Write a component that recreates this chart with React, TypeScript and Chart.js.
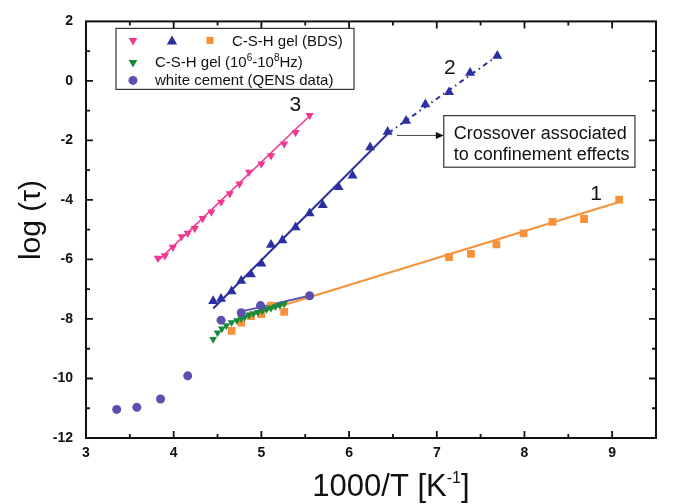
import React, { useEffect, useRef } from "react";
import { Chart, registerables } from "chart.js";

Chart.register(...registerables);

const FONT = '"Liberation Sans", Arial, Helvetica, sans-serif';

// Axis ranges and tick labels
const X_MIN = 3;
const X_MAX = 9.5;
const Y_MIN = -12;
const Y_MAX = 2;
const xTickLabels = [3, 4, 5, 6, 7, 8, 9];
const yTickLabels = [-12, -10, -8, -6, -4, -2, 0, 2];

// Curve 3 (pink, down triangles)
const pinkX = [3.82, 3.9, 3.99, 4.09, 4.16, 4.24, 4.33, 4.43, 4.54, 4.64, 4.75, 4.86, 5.0, 5.11, 5.26, 5.39, 5.55];
const pinkY = [-5.96, -5.87, -5.59, -5.23, -5.12, -4.96, -4.62, -4.4, -4.07, -3.79, -3.46, -3.07, -2.79, -2.51, -2.12, -1.73, -1.16];
const pinkFitX = [3.82, 5.57];
const pinkFitY = [-6.05, -1.12];

// Curve 2 (blue, up triangles)
const blueX = [4.45, 4.54, 4.66, 4.77, 4.88, 5.0, 5.11, 5.24, 5.39, 5.55, 5.7, 5.88, 6.04, 6.24, 6.44, 6.65, 6.87, 7.14, 7.38, 7.69];
const blueY = [-7.4, -7.32, -7.07, -6.72, -6.5, -6.14, -5.51, -5.36, -4.92, -4.45, -4.17, -3.57, -3.18, -2.23, -1.71, -1.34, -0.79, -0.38, 0.27, 0.84];
const blueFitX = [4.45, 6.45];
const blueFitY = [-7.65, -1.75];
const blueConfX = [6.45, 7.69];
const blueConfY = [-1.75, 0.84];

// Curve 1: C-S-H gel (BDS), orange squares
const orangeX = [4.66, 4.77, 4.88, 5.0, 5.11, 5.26, 7.14, 7.39, 7.68, 7.99, 8.32, 8.68, 9.08];
const orangeY = [-8.4, -8.12, -7.9, -7.84, -7.55, -7.76, -5.92, -5.81, -5.49, -5.12, -4.74, -4.64, -3.99];
const orangeFitX = [4.72, 9.08];
const orangeFitY = [-8.02, -4.07];

// C-S-H gel (10^6-10^8 Hz), green down triangles
const greenX = [4.45, 4.5, 4.55, 4.6, 4.66, 4.72, 4.77, 4.81, 4.86, 4.91, 4.96, 5.01, 5.06, 5.11, 5.16, 5.21, 5.26];
const greenY = [-8.68, -8.46, -8.33, -8.22, -8.12, -8.05, -7.98, -7.93, -7.87, -7.82, -7.77, -7.72, -7.67, -7.63, -7.58, -7.54, -7.49];

// White cement (QENS data), purple circles
const purpleX = [3.35, 3.58, 3.85, 4.16, 4.54, 4.77, 4.99, 5.55];
const purpleY = [-11.04, -10.97, -10.69, -9.91, -8.04, -7.79, -7.55, -7.22];
const purpleFitX = [4.74, 5.55];
const purpleFitY = [-7.77, -7.22];

// Curve numbers and the crossover note (data coordinates)
const curveLabels = ["3", "2", "1"];
const curveLabelX = [5.386, 7.148, 8.818];
const curveLabelY = [-0.8, 0.433, -3.8];
const noteLines = ["Crossover associated", "to confinement effects"];
const noteBoxX = [7.08, 9.26];
const noteBoxY = [-1.167, -2.9];
const noteArrowFrom = [6.545, -1.833];

const PINK = "#ee3a93";
const BLUE = "#2b2fa0";
const ORANGE = "#f7923a";
const GREEN = "#188a3c";
const PURPLE = "#5b50ae";

const pts = (xs: number[], ys: number[]) => xs.map((x, i) => ({ x, y: ys[i] }));

function drawMarker(ctx: CanvasRenderingContext2D, kind: string, x: number, y: number, r: number, color: string) {
  ctx.save();
  ctx.fillStyle = color;
  ctx.beginPath();
  if (kind === "up" || kind === "down") {
    const s = kind === "up" ? -1 : 1;
    ctx.moveTo(x, y + s * r);
    ctx.lineTo(x + r * 0.866, y - s * r * 0.5);
    ctx.lineTo(x - r * 0.866, y - s * r * 0.5);
    ctx.closePath();
  } else if (kind === "rect") {
    ctx.rect(x - r * 0.707, y - r * 0.707, r * 1.414, r * 1.414);
  } else {
    ctx.arc(x, y, r, 0, Math.PI * 2);
  }
  ctx.fill();
  ctx.restore();
}

// Draws text made of normal and superscript parts, starting at x
function drawRich(ctx: CanvasRenderingContext2D, parts: [string, boolean][], x: number, y: number, size: number, supSize: number, supRise: number, weight = "normal") {
  let cx = x;
  for (const [t, sup] of parts) {
    ctx.font = `${weight} ${sup ? supSize : size}px ${FONT}`;
    ctx.fillText(t, cx, sup ? y - supRise : y);
    cx += ctx.measureText(t).width;
  }
  return cx - x;
}
function richWidth(ctx: CanvasRenderingContext2D, parts: [string, boolean][], size: number, supSize: number, weight = "normal") {
  let w = 0;
  for (const [t, sup] of parts) {
    ctx.font = `${weight} ${sup ? supSize : size}px ${FONT}`;
    w += ctx.measureText(t).width;
  }
  return w;
}

const framePlugin = {
  id: "frame",
  beforeDraw(chart: any) {
    const { ctx, width, height } = chart;
    ctx.save();
    ctx.fillStyle = "#ffffff";
    ctx.fillRect(0, 0, width, height);
    ctx.restore();
  },
  afterDraw(chart: any) {
    const { ctx, chartArea: a } = chart;
    const xs = chart.scales.x;
    const ys = chart.scales.y;
    ctx.save();

    // plot frame
    ctx.strokeStyle = "#111";
    ctx.lineWidth = 2;
    ctx.strokeRect(a.left, a.top, a.right - a.left, a.bottom - a.top);

    // inward ticks on all four sides
    ctx.lineWidth = 1.8;
    ctx.beginPath();
    for (let v = X_MIN + 0.5; v < X_MAX - 1e-6; v += 0.5) {
      const px = xs.getPixelForValue(v);
      const len = Math.abs(v - Math.round(v)) < 1e-6 ? 7 : 4;
      ctx.moveTo(px, a.bottom);
      ctx.lineTo(px, a.bottom - len);
      ctx.moveTo(px, a.top);
      ctx.lineTo(px, a.top + len);
    }
    for (let v = Y_MIN + 1; v < Y_MAX; v += 1) {
      const py = ys.getPixelForValue(v);
      const len = v % 2 === 0 ? 7 : 4;
      ctx.moveTo(a.left, py);
      ctx.lineTo(a.left + len, py);
      ctx.moveTo(a.right, py);
      ctx.lineTo(a.right - len, py);
    }
    ctx.stroke();

    ctx.fillStyle = "#111";
    ctx.textBaseline = "alphabetic";
    ctx.textAlign = "left";

    // x-axis title with superscript
    const xTitle: [string, boolean][] = [["1000/T [K", false], ["-1", true], ["]", false]];
    const wX = richWidth(ctx, xTitle, 31, 16);
    drawRich(ctx, xTitle, 391 - wX / 2, 496, 31, 16, 13);

    // y-axis title
    ctx.save();
    ctx.translate(40, 220);
    ctx.rotate(-Math.PI / 2);
    ctx.font = `30px ${FONT}`;
    ctx.textAlign = "center";
    ctx.fillText("log (\u03c4)", 0, 0);
    ctx.restore();

    // curve numbers
    ctx.font = `21px ${FONT}`;
    ctx.textAlign = "center";
    ctx.textBaseline = "middle";
    curveLabels.forEach((t, i) => {
      ctx.fillText(t, xs.getPixelForValue(curveLabelX[i]), ys.getPixelForValue(curveLabelY[i]));
    });

    // crossover note with arrow
    const bx0 = xs.getPixelForValue(noteBoxX[0]);
    const bx1 = xs.getPixelForValue(noteBoxX[1]);
    const by0 = ys.getPixelForValue(noteBoxY[0]);
    const by1 = ys.getPixelForValue(noteBoxY[1]);
    ctx.fillStyle = "#fff";
    ctx.fillRect(bx0, by0, bx1 - bx0, by1 - by0);
    ctx.strokeStyle = "#333";
    ctx.lineWidth = 1.2;
    ctx.strokeRect(bx0, by0, bx1 - bx0, by1 - by0);
    const ax = xs.getPixelForValue(noteArrowFrom[0]);
    const ay = ys.getPixelForValue(noteArrowFrom[1]);
    ctx.strokeStyle = "#444";
    ctx.lineWidth = 1;
    ctx.beginPath();
    ctx.moveTo(ax, ay);
    ctx.lineTo(bx0 - 6, ay);
    ctx.stroke();
    ctx.fillStyle = "#111";
    ctx.beginPath();
    ctx.moveTo(bx0, ay);
    ctx.lineTo(bx0 - 8, ay - 3.5);
    ctx.lineTo(bx0 - 8, ay + 3.5);
    ctx.closePath();
    ctx.fill();
    ctx.font = `18px ${FONT}`;
    ctx.textAlign = "left";
    ctx.textBaseline = "alphabetic";
    ctx.fillText(noteLines[0], bx0 + 10, by0 + 23);
    ctx.fillText(noteLines[1], bx0 + 10, by0 + 44);

    // legend
    const lx = a.left + 30;
    const ly = a.top + 7;
    ctx.fillStyle = "#fff";
    ctx.fillRect(lx, ly, 238, 61);
    ctx.strokeStyle = "#333";
    ctx.lineWidth = 1.2;
    ctx.strokeRect(lx, ly, 238, 61);
    drawMarker(ctx, "down", lx + 17, ly + 12, 5, PINK);
    drawMarker(ctx, "up", lx + 56, ly + 13, 6, BLUE);
    drawMarker(ctx, "rect", lx + 94, ly + 12, 5, ORANGE);
    drawMarker(ctx, "down", lx + 17, ly + 34, 5, GREEN);
    drawMarker(ctx, "circle", lx + 17, ly + 52, 4.5, PURPLE);
    ctx.fillStyle = "#111";
    ctx.font = `15px ${FONT}`;
    ctx.fillText("C-S-H gel (BDS)", lx + 116, ly + 18);
    drawRich(ctx, [["C-S-H gel (10", false], ["6", true], ["-10", false], ["8", true], ["Hz)", false]], lx + 39, ly + 39, 15, 10, 6);
    ctx.font = `15px ${FONT}`;
    ctx.fillText("white cement (QENS data)", lx + 39, ly + 57);

    ctx.restore();
  },
};

export default function App() {
  const ref = useRef<HTMLCanvasElement | null>(null);

  useEffect(() => {
    if (!ref.current) return;
    const fit = (data: { x: number; y: number }[], color: string, width: number, dash?: number[]) => ({
      data,
      showLine: true,
      borderColor: color,
      borderWidth: width,
      borderDash: dash || [],
      pointRadius: 0,
      fill: false,
      order: 2,
    });
    const marks = (data: { x: number; y: number }[], color: string, style: string, r: number, rot = 0) => ({
      data,
      showLine: false,
      pointStyle: style,
      pointRotation: rot,
      pointRadius: r,
      backgroundColor: color,
      borderColor: color,
      borderWidth: 0,
      order: 1,
    });

    const chart = new Chart(ref.current, {
      type: "scatter",
      data: {
        datasets: [
          marks(pts(purpleX, purpleY), PURPLE, "circle", 4.5),
          marks(pts(greenX, greenY), GREEN, "triangle", 4.5, 180),
          marks(pts(orangeX, orangeY), ORANGE, "rect", 5.5),
          marks(pts(blueX, blueY), BLUE, "triangle", 5.8),
          marks(pts(pinkX, pinkY), PINK, "triangle", 4.8, 180),
          fit(pts(pinkFitX, pinkFitY), PINK, 1.6),
          fit(pts(blueFitX, blueFitY), BLUE, 2),
          fit(pts(blueConfX, blueConfY), BLUE, 2, [5, 4, 1.5, 4]),
          fit(pts(orangeFitX, orangeFitY), ORANGE, 2),
          fit(pts(purpleFitX, purpleFitY), PURPLE, 2),
        ] as any,
      },
      options: {
        animation: false,
        responsive: false,
        devicePixelRatio: 1,
        layout: { padding: { left: 0, right: 19, top: 18, bottom: 0 } },
        plugins: { legend: { display: false }, tooltip: { enabled: false } },
        scales: {
          x: {
            type: "linear",
            min: X_MIN,
            max: X_MAX,
            afterBuildTicks: (s: any) => {
              s.ticks = xTickLabels.map((v) => ({ value: v }));
            },
            afterFit: (s: any) => {
              s.height = 66;
            },
            grid: { display: false, drawTicks: false },
            border: { display: false },
            ticks: { padding: 7, color: "#111", font: { family: FONT, size: 14, weight: "bold" } },
          },
          y: {
            type: "linear",
            min: Y_MIN,
            max: Y_MAX,
            afterBuildTicks: (s: any) => {
              s.ticks = yTickLabels.map((v) => ({ value: v }));
            },
            afterFit: (s: any) => {
              s.width = 86;
            },
            grid: { display: false, drawTicks: false },
            border: { display: false },
            ticks: { padding: 13, color: "#111", font: { family: FONT, size: 14, weight: "bold" } },
          },
        },
      } as any,
      plugins: [framePlugin],
    });
    return () => chart.destroy();
  }, []);

  return (
    <div style={{ position: "absolute", left: 0, top: 0, width: 675, height: 504, background: "#fff" }}>
      <canvas ref={ref} width={675} height={504} style={{ display: "block" }} />
    </div>
  );
}
